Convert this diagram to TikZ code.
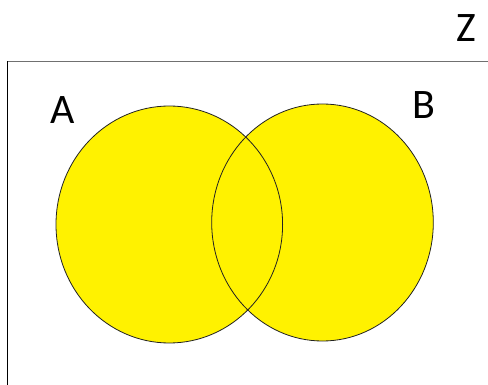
\documentclass[tikz,border=0pt]{standalone}
\usepackage{fontspec}
\setmainfont{Carlito}
\definecolor{vyellow}{HTML}{FFF200}
\definecolor{vedge}{HTML}{222222}
\definecolor{vtop}{HTML}{707070}
\begin{document}
\begin{tikzpicture}[x=1pt,y=-1pt,
  lbl/.style={font=\fontsize{42}{42}\selectfont, inner sep=0pt, anchor=base},
  setfill/.style={fill=vyellow},
  setedge/.style={draw=vedge, line width=0.8pt}]
\useasboundingbox (0,0) rectangle (488,385);
\fill[white] (0,0) rectangle (488,385);
% universe frame
\draw[vtop, line width=1pt] (7.5,61.5) -- (488,61.5);
\draw[black, line width=1pt] (7.5,61.5) -- (7.5,385);
% sets
\fill[setfill] (169.3,224.5) ellipse [x radius=113.3, y radius=118.5];
\fill[setfill] (322.5,222.5) ellipse [x radius=110.8, y radius=118.5];
\draw[setedge] (169.3,224.5) ellipse [x radius=113.3, y radius=118.5];
\draw[setedge] (322.5,222.5) ellipse [x radius=110.8, y radius=118.5];
% labels
\node[lbl] (la) at (63,123.5) {A};
\node[lbl] (lb) at (424,119) {B};
\node[lbl] (lz) at (466.5,42) {Z};
\end{tikzpicture}
\end{document}
